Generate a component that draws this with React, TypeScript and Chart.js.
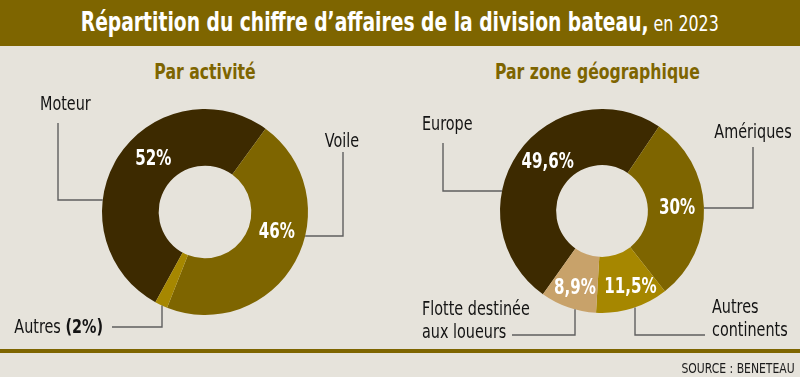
import React, { useEffect, useRef } from "react";
import { Chart, registerables } from "chart.js";

Chart.register(...registerables);

// ---------- data ----------
const activityLabels = ["Moteur", "Voile", "Autres"];
const activityValues = [52, 46, 2];
const activityValueText = ["52%", "46%", ""];

const zoneLabels = ["Europe", "Amériques", "Autres continents", "Flotte destinée aux loueurs"];
const zoneValues = [49.6, 30, 11.5, 8.9];
const zoneValueText = ["49,6%", "30%", "11,5%", "8,9%"];

const titleMain = "Répartition du chiffre d’affaires de la division bateau,";
const titleYear = " en 2023";
const subtitleActivity = "Par activité";
const subtitleZone = "Par zone géographique";
const sourceText = "SOURCE : BENETEAU";

// ---------- style ----------
const FONT = "'DejaVu Sans Condensed', 'Liberation Sans Narrow', sans-serif";
const SX = 0.83; // horizontal condensing of text
const BG = "#e6e3db";
const OLIVE = "#7e6500";
const DARK = "#3d2a00";
const GOLD = "#a68700";
const TAN = "#c8a26a";
const activityColors = [DARK, OLIVE, GOLD];
const zoneColors = [DARK, OLIVE, GOLD, TAN];

type Part = { t: string; bold?: boolean };
type Callout = {
  lines: Part[][];
  tx: number;
  ty: number;
  align: "left" | "center" | "right";
  path: [number, number][];
  to: "h" | "v";
};

function drawCondensed(ctx: CanvasRenderingContext2D, text: string, x: number, y: number, sx: number) {
  ctx.save();
  ctx.translate(x, y);
  ctx.scale(sx, 1);
  ctx.fillText(text, 0, 0);
  ctx.restore();
}

const sliceLabelPlugin = {
  id: "sliceLabels",
  afterDatasetsDraw(chart: any, _args: any, opts: any) {
    const meta = chart.getDatasetMeta(0);
    const ctx: CanvasRenderingContext2D = chart.ctx;
    ctx.save();
    ctx.fillStyle = "#ffffff";
    ctx.font = `bold 21px ${FONT}`;
    ctx.textAlign = "center";
    ctx.textBaseline = "middle";
    meta.data.forEach((arc: any, i: number) => {
      const text = opts.texts[i];
      if (!text) return;
      const p = arc.getProps(["x", "y", "startAngle", "endAngle", "innerRadius", "outerRadius"], true);
      const mid = (p.startAngle + p.endAngle) / 2 + ((opts.angleOffsets[i] || 0) * Math.PI) / 180;
      const f = opts.radialFractions[i] ?? 0.5;
      const r = p.innerRadius + f * (p.outerRadius - p.innerRadius);
      drawCondensed(ctx, text, p.x + r * Math.cos(mid), p.y + r * Math.sin(mid), 0.8);
    });

    // callouts
    const arc0 = meta.data[0];
    if (!arc0) { ctx.restore(); return; }
    const c = arc0.getProps(["x", "y", "outerRadius"], true);
    const R = c.outerRadius;
    const callouts: Callout[] = opts.callouts || [];
    callouts.forEach((co) => {
      ctx.strokeStyle = "#5f5f5f";
      ctx.lineWidth = 1.4;
      ctx.beginPath();
      co.path.forEach(([dx, dy], k) => {
        if (k === 0) ctx.moveTo(c.x + dx, c.y + dy);
        else ctx.lineTo(c.x + dx, c.y + dy);
      });
      const [ex, ey] = co.path[co.path.length - 1];
      if (co.to === "h") {
        const x = Math.sign(ex) * Math.sqrt(Math.max(R * R - ey * ey, 0));
        ctx.lineTo(c.x + x, c.y + ey);
      } else {
        const y = Math.sign(ey) * Math.sqrt(Math.max(R * R - ex * ex, 0));
        ctx.lineTo(c.x + ex, c.y + y);
      }
      ctx.stroke();

      ctx.fillStyle = "#141414";
      ctx.textBaseline = "middle";
      ctx.textAlign = "left";
      co.lines.forEach((line, li) => {
        const widths = line.map((part) => {
          ctx.font = `${part.bold ? "bold " : ""}20px ${FONT}`;
          return ctx.measureText(part.t).width * 0.8;
        });
        const total = widths.reduce((a, b) => a + b, 0);
        let x = c.x + co.tx;
        if (co.align === "center") x -= total / 2;
        if (co.align === "right") x -= total;
        const y = c.y + co.ty + li * 23;
        line.forEach((part, k) => {
          ctx.font = `${part.bold ? "bold " : ""}20px ${FONT}`;
          drawCondensed(ctx, part.t, x, y, 0.8);
          x += widths[k];
        });
      });
    });
    ctx.restore();
  },
};

function Doughnut(props: {
  labels: string[];
  values: number[];
  colors: string[];
  texts: string[];
  rotation: number;
  padding: { left: number; right: number; top: number; bottom: number };
  angleOffsets: number[];
  radialFractions: number[];
  callouts: Callout[];
  left: number;
}) {
  const ref = useRef<HTMLCanvasElement | null>(null);
  useEffect(() => {
    if (!ref.current) return;
    const chart = new Chart(ref.current, {
      type: "doughnut",
      data: {
        labels: props.labels,
        datasets: [
          {
            data: props.values,
            backgroundColor: props.colors,
            borderWidth: 0,
            hoverOffset: 0,
            offset: 0,
          },
        ],
      },
      options: {
        responsive: false,
        animation: false,
        rotation: props.rotation,
        cutout: "45%",
        layout: { padding: props.padding },
        events: [],
        plugins: {
          legend: { display: false },
          tooltip: { enabled: false },
          sliceLabels: {
            texts: props.texts,
            angleOffsets: props.angleOffsets,
            radialFractions: props.radialFractions,
            callouts: props.callouts,
          },
        } as any,
      },
      plugins: [sliceLabelPlugin],
    });
    return () => chart.destroy();
  }, []);
  return (
    <canvas
      ref={ref}
      width={400}
      height={377}
      style={{ position: "absolute", left: props.left, top: 0, width: 400, height: 377 }}
    />
  );
}

const activityCallouts: Callout[] = [
  { lines: [[{ t: activityLabels[0] }]], tx: -165, ty: -107, align: "left", path: [[-147, -89], [-147, -12]], to: "h" },
  { lines: [[{ t: activityLabels[1] }]], tx: 137, ty: -70, align: "center", path: [[138, -60], [138, 24]], to: "h" },
  {
    lines: [[{ t: activityLabels[2] + " " }, { t: "(" + activityValues[2] + "%)", bold: true }]],
    tx: -102, ty: 116, align: "right", path: [[-93, 115], [-43, 115]], to: "v",
  },
];

const zoneCallouts: Callout[] = [
  { lines: [[{ t: "Europe" }]], tx: -180, ty: -86, align: "left", path: [[-159, -68], [-159, -20]], to: "h" },
  { lines: [[{ t: "Amériques" }]], tx: 151, ty: -78, align: "center", path: [[151, -64], [151, -3]], to: "h" },
  { lines: [[{ t: "Autres" }], [{ t: "continents" }]], tx: 110, ty: 97, align: "left", path: [[103, 124], [33, 124]], to: "v" },
  { lines: [[{ t: "Flotte destinée" }], [{ t: "aux loueurs" }]], tx: -180, ty: 99, align: "left", path: [[-90, 124], [-27, 124]], to: "v" },
];

const squeeze = (origin: string, sx: number = SX): React.CSSProperties => ({
  display: "inline-block",
  transform: `scaleX(${sx})`,
  transformOrigin: origin,
  whiteSpace: "nowrap",
});

export default function App() {
  return (
    <div
      style={{
        position: "absolute",
        left: 0,
        top: 0,
        width: 800,
        height: 377,
        background: BG,
        overflow: "hidden",
        fontFamily: FONT,
      }}
    >
      <div
        style={{
          position: "absolute",
          left: 0,
          top: 0,
          width: 800,
          height: 46,
          background: OLIVE,
          color: "#fff",
          textAlign: "center",
          lineHeight: "44px",
          whiteSpace: "nowrap",
        }}
      >
        <span style={squeeze("center", 0.8)}>
          <span style={{ fontWeight: "bold", fontSize: 26 }}>{titleMain}</span>
          <span style={{ fontSize: 22 }}>{titleYear}</span>
        </span>
      </div>
      <div
        style={{
          position: "absolute", left: 105, width: 200, top: 60, lineHeight: "24px",
          textAlign: "center", color: OLIVE, fontWeight: "bold", fontSize: 21,
        }}
      >
        <span style={squeeze("center")}>{subtitleActivity}</span>
      </div>
      <div
        style={{
          position: "absolute", left: 447, width: 300, top: 60, lineHeight: "24px",
          textAlign: "center", color: OLIVE, fontWeight: "bold", fontSize: 21,
        }}
      >
        <span style={squeeze("center")}>{subtitleZone}</span>
      </div>
      <Doughnut
        labels={activityLabels}
        values={activityValues}
        colors={activityColors}
        texts={activityValueText}
        rotation={208.8}
        padding={{ left: 102, right: 92, top: 109, bottom: 62 }}
        angleOffsets={[13, -13, 0]}
        radialFractions={[0.48, 0.5, 0.5]}
        callouts={activityCallouts}
        left={0}
      />
      <Doughnut
        labels={zoneLabels}
        values={zoneValues}
        colors={zoneColors}
        texts={zoneValueText}
        rotation={215.4}
        padding={{ left: 100, right: 96, top: 109, bottom: 64 }}
        angleOffsets={[7, 0.5, -3, 0]}
        radialFractions={[0.48, 0.52, 0.64, 0.64]}
        callouts={zoneCallouts}
        left={400}
      />
      <div style={{ position: "absolute", left: 0, top: 349, width: 800, height: 4, background: OLIVE }} />
      <div
        style={{
          position: "absolute", right: 5, top: 359, lineHeight: "18px", fontSize: 14,
          color: "#1a1a1a", textAlign: "right",
        }}
      >
        <span style={squeeze("right", 0.86)}>{sourceText}</span>
      </div>
    </div>
  );
}
